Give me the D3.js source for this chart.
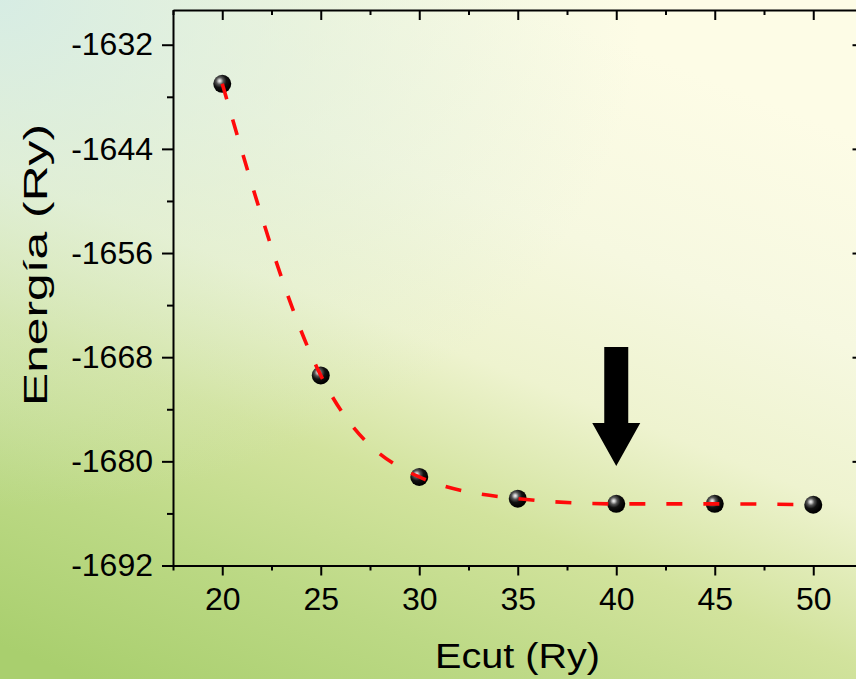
<!DOCTYPE html>
<html>
<head>
<meta charset="utf-8">
<script src="https://cdn.jsdelivr.net/npm/d3@7/dist/d3.min.js"></script>
<style>
  html, body { margin: 0; padding: 0; background: #eef3cc; }
  svg { display: block; }
  text { font-family: "Liberation Sans", Arial, sans-serif; fill: #000; }
</style>
</head>
<body>
<svg id="chart" width="856" height="679"></svg>
<script>
// Plane-wave cutoff convergence: total energy vs. Ecut
const ecut = [20, 25, 30, 35, 40, 45, 50];
const energy = [-1636.5, -1670.1, -1681.8, -1684.3, -1684.9, -1684.9, -1685.0];
const xTicks = [20, 25, 30, 35, 40, 45, 50];
const yTicks = [-1632, -1644, -1656, -1668, -1680, -1692];
const convergedEcut = 40;

const W = 856, H = 679;
const svg = d3.select("#chart");
const defs = svg.append("defs");

// background wash: green at the bottom, pale yellow upper-right, minty top-left
const bg = defs.append("linearGradient").attr("id", "bgMain")
  .attr("x1", "0.1").attr("y1", "1").attr("x2", "0.6").attr("y2", "0");
[[0, "#a9cf6e"], [0.2, "#bcd985"], [0.38, "#d2e39d"], [0.56, "#eef3cf"], [0.75, "#f6f8e0"], [1, "#fdfce6"]]
  .forEach(([o, c]) => bg.append("stop").attr("offset", o).attr("stop-color", c));
const tint = defs.append("radialGradient").attr("id", "bgTint")
  .attr("cx", "0").attr("cy", "0").attr("r", "0.75");
tint.append("stop").attr("offset", 0).attr("stop-color", "#d3ebe4").attr("stop-opacity", 0.9);
tint.append("stop").attr("offset", 0.5).attr("stop-color", "#d6ebd8").attr("stop-opacity", 0.45);
tint.append("stop").attr("offset", 1).attr("stop-color", "#d6ebd8").attr("stop-opacity", 0);

// glossy black ball marker
const ball = defs.append("radialGradient").attr("id", "ball")
  .attr("cx", "0.36").attr("cy", "0.34").attr("r", "0.62");
[[0, "#f4f4f4"], [0.12, "#c8c8c8"], [0.32, "#555"], [0.6, "#111"], [1, "#000"]]
  .forEach(([o, c]) => ball.append("stop").attr("offset", o).attr("stop-color", c));

svg.append("rect").attr("width", W).attr("height", H).attr("fill", "url(#bgMain)");
svg.append("rect").attr("width", W).attr("height", H).attr("fill", "url(#bgTint)");

const x = d3.scaleLinear().domain([17.5, 52.5]).range([173, 862.5]);
const y = d3.scaleLinear().domain([-1692, -1628]).range([565.5, 10]);

const minorX = d3.range(17.5, 52.6, 2.5).filter(v => !xTicks.includes(v));
const minorY = d3.range(-1692, -1627, 6).filter(v => !yTicks.includes(v));
const plain = d => String(d);

function styleAxis(g) {
  g.select(".domain").attr("stroke", "#000").attr("stroke-width", 2);
  g.selectAll(".tick line").attr("stroke", "#000").attr("stroke-width", 2);
}

// bottom axis (ticks out) with labels
const gB = svg.append("g").attr("transform", `translate(0,${y(-1692)})`);
gB.call(d3.axisBottom(x).tickValues(xTicks).tickSize(10).tickSizeOuter(0).tickPadding(12)
  .tickFormat(plain));
gB.selectAll(".tick text").attr("font-size", 32).attr("font-family", "Liberation Sans, Arial, sans-serif")
  .attr("fill", "#000").attr("dy", "0.71em");
styleAxis(gB);
svg.append("g").attr("transform", `translate(0,${y(-1692)})`)
  .call(d3.axisBottom(x).tickValues(minorX).tickSize(5).tickFormat(""))
  .call(g => g.select(".domain").remove()).call(styleAxis);

// top axis (ticks in)
const gT = svg.append("g").attr("transform", `translate(0,${y(-1628)})`);
gT.call(d3.axisBottom(x).tickValues(xTicks).tickSize(10).tickSizeOuter(0).tickFormat(""));
styleAxis(gT);
svg.append("g").attr("transform", `translate(0,${y(-1628)})`)
  .call(d3.axisBottom(x).tickValues(minorX).tickSize(5).tickFormat(""))
  .call(g => g.select(".domain").remove()).call(styleAxis);

// left axis (ticks out) with labels
const gL = svg.append("g").attr("transform", `translate(${x(17.5)},0)`);
gL.call(d3.axisLeft(y).tickValues(yTicks).tickSize(11).tickSizeOuter(0).tickPadding(9)
  .tickFormat(plain));
gL.selectAll(".tick text").attr("font-size", 32).attr("font-family", "Liberation Sans, Arial, sans-serif")
  .attr("fill", "#000");
styleAxis(gL);
svg.append("g").attr("transform", `translate(${x(17.5)},0)`)
  .call(d3.axisLeft(y).tickValues(minorY).tickSize(6).tickFormat(""))
  .call(g => g.select(".domain").remove()).call(styleAxis);

// right axis (ticks in)
const gR = svg.append("g").attr("transform", `translate(${x(52.5)},0)`);
gR.call(d3.axisRight(y).tickValues(yTicks).tickSize(-10).tickSizeOuter(0).tickFormat(""));
styleAxis(gR);
svg.append("g").attr("transform", `translate(${x(52.5)},0)`)
  .call(d3.axisRight(y).tickValues(minorY).tickSize(-5).tickFormat(""))
  .call(g => g.select(".domain").remove()).call(styleAxis);

// axis titles
svg.append("text").attr("x", 517.5).attr("y", 668).attr("text-anchor", "middle")
  .attr("font-size", 35).attr("textLength", 165).attr("lengthAdjust", "spacingAndGlyphs")
  .text("Ecut (Ry)");
svg.append("text").attr("transform", "translate(47,265) rotate(-90)").attr("text-anchor", "middle")
  .attr("font-size", 33).attr("textLength", 282).attr("lengthAdjust", "spacingAndGlyphs")
  .text("Energía (Ry)");

const pts = ecut.map((e, i) => [e, energy[i]]);

// data markers
svg.append("g").selectAll("circle").data(pts).join("circle")
  .attr("cx", d => x(d[0])).attr("cy", d => y(d[1])).attr("r", 9)
  .attr("fill", "url(#ball)");

// dashed trend line through the points
const line = d3.line().x(d => x(d[0])).y(d => y(d[1])).curve(d3.curveMonotoneX);
svg.append("path").datum(pts).attr("d", line)
  .attr("fill", "none").attr("stroke", "#ff0a0a").attr("stroke-width", 3.6)
  .attr("stroke-dasharray", "16,21");

// arrow marking the converged cutoff
const ax = x(convergedEcut), tipY = 466;
svg.append("path")
  .attr("d", `M${ax - 12},347 H${ax + 12} V423 H${ax + 24} L${ax},${tipY} L${ax - 24},423 H${ax - 12} Z`)
  .attr("fill", "#000");
</script>
</body>
</html>
